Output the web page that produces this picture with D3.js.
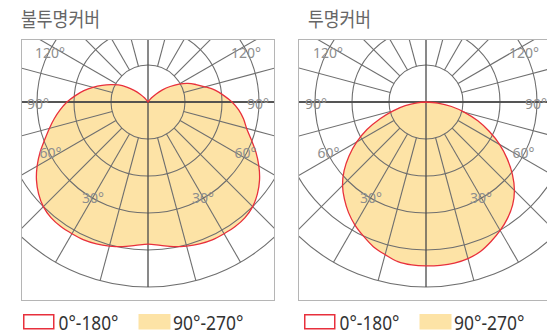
<!DOCTYPE html>
<html>
<head>
<meta charset="utf-8">
<script src="https://cdn.jsdelivr.net/npm/d3@7"></script>
<style>
  html, body { margin: 0; padding: 0; background: #fff; overflow: hidden; }
  svg { display: block; }
</style>
</head>
<body>
<svg id="chart" width="547" height="335"></svg>
<script>
// Angles from nadir (0° = straight down), one reading every 5°
const angles = [0, 5, 10, 15, 20, 25, 30, 35, 40, 45, 50, 55, 60, 65, 70, 75, 80, 85, 90,
  95, 100, 105, 110, 115, 120, 125, 130, 135, 140, 145, 150, 155, 160, 165, 170, 175, 180];

// Rings and angle labels
const rings = [100, 200, 300, 400, 500];
const labelAngles = [30, 60, 90, 120];
const legendLabels = ['0°-180°', '90°-270°'];

// 불투명커버 (opaque cover) - the two planes overlap within reading accuracy
const opaqueLeft = [384, 389, 397, 403, 408, 411, 411, 411, 408, 400, 386, 368, 346, 322, 297, 276, 257, 238, 219,
  197, 176, 154, 132, 111, 92, 70, 49, 30, 14, 0, 0, 0, 0, 0, 0, 0, 0];
const opaqueRight = [384, 389, 397, 403, 408, 411, 411, 411, 408, 400, 386, 368, 346, 322, 297, 276, 262, 246, 227,
  205, 184, 159, 138, 119, 97, 73, 51, 30, 14, 0, 0, 0, 0, 0, 0, 0, 0];

// 투명커버 (clear cover)
const clearLeft = [443, 442, 438, 427, 416, 400, 384, 365, 343, 319, 289, 254, 216, 176, 132, 92, 57, 24, 0,
  0, 0, 0, 0, 0, 0, 0, 0, 0, 0, 0, 0, 0, 0, 0, 0, 0, 0];
const clearRight = [443, 443, 442, 438, 430, 416, 401, 384, 364, 338, 305, 268, 230, 189, 149, 108, 70, 32, 0,
  0, 0, 0, 0, 0, 0, 0, 0, 0, 0, 0, 0, 0, 0, 0, 0, 0, 0];

// Layout
const cy = 102;
const boxTop = 39.5, boxBottom = 300.5;
const panels = [
  { id: 'p0', title: '불투명커버', titleW: 79, left: opaqueLeft, right: opaqueRight,
    cx: 148, x0: 21.5, x1: 274.5, titleX: 21, legendX: 23 },
  { id: 'p1', title: '투명커버', titleW: 63, left: clearLeft, right: clearRight,
    cx: 426, x0: 298.5, x1: 560, titleX: 308, legendX: 304 }
];
// labels sit a little off their spoke so they don't collide with it
const labelNudge = { 30: 0, 60: 2.5, 90: -1, 120: -3 };

const colors = {
  fill: '#fde3a6',
  red: '#e8303c',
  grid: '#6f6f6f',
  axis: '#4a4a4a',
  box: '#b5b5b5',
  label: '#8e8e8e',
  title: '#666',
  legend: '#333'
};

const rScale = d3.scaleLinear().domain([0, 500]).range([0, 185]);
const rad = d => d * Math.PI / 180;

const svg = d3.select('#chart');
const defs = svg.append('defs');

// Closed outline: right half from nadir to zenith, then left half back down
function outline(left, right) {
  const pts = [];
  angles.forEach((a, i) => pts.push([Math.PI - rad(a), rScale(right[i])]));
  for (let i = angles.length - 2; i >= 1; i--) {
    pts.push([Math.PI + rad(angles[i]), rScale(left[i])]);
  }
  return d3.lineRadial().curve(d3.curveCatmullRomClosed.alpha(0.5))(pts);
}

panels.forEach(p => {
  defs.append('clipPath').attr('id', `clip-${p.id}`)
    .append('rect')
    .attr('x', p.x0).attr('y', boxTop)
    .attr('width', p.x1 - p.x0).attr('height', boxBottom - boxTop);

  const g = svg.append('g');

  // Title
  g.append('text')
    .attr('x', p.titleX).attr('y', 26.5)
    .attr('font-family', '"Noto Sans CJK KR", "Noto Sans", sans-serif')
    .attr('font-size', 20)
    .attr('fill', colors.title)
    .attr('textLength', p.titleW)
    .attr('lengthAdjust', 'spacingAndGlyphs')
    .text(p.title);

  const plot = g.append('g').attr('clip-path', `url(#clip-${p.id})`);
  const polar = plot.append('g').attr('transform', `translate(${p.cx},${cy})`);

  // 90°-270° plane (filled)
  polar.append('path')
    .attr('d', outline(p.left, p.right))
    .attr('fill', colors.fill);

  // Rings
  polar.selectAll('circle.ring')
    .data(rings)
    .join('circle')
    .attr('class', 'ring')
    .attr('r', d => rScale(d))
    .attr('fill', 'none')
    .attr('stroke', colors.grid)
    .attr('stroke-width', 1.1);

  // Spokes every 15°, main axes through the centre
  const spokes = d3.range(0, 360, 15);
  polar.selectAll('line.spoke')
    .data(spokes)
    .join('line')
    .attr('class', 'spoke')
    .attr('x1', d => (d % 90 === 0 ? 0 : rScale(rings[0])) * Math.sin(rad(d)))
    .attr('y1', d => (d % 90 === 0 ? 0 : rScale(rings[0])) * Math.cos(rad(d)))
    .attr('x2', d => rScale(rings[rings.length - 1]) * Math.sin(rad(d)))
    .attr('y2', d => rScale(rings[rings.length - 1]) * Math.cos(rad(d)))
    .attr('stroke', d => d % 90 === 0 ? colors.axis : colors.grid)
    .attr('stroke-width', d => d % 90 === 0 ? 1.3 : 1.1);

  // Horizontal axis runs to the box edges
  polar.append('line')
    .attr('x1', -300).attr('x2', 300)
    .attr('stroke', colors.axis)
    .attr('stroke-width', 1.3);

  // 0°-180° plane (outline)
  polar.append('path')
    .attr('d', outline(p.left, p.right))
    .attr('fill', 'none')
    .attr('stroke', colors.red)
    .attr('stroke-width', 1.3);

  // Angle labels on the third ring, both sides
  const labelR = rScale(rings[2]) - 1;
  const labelData = labelAngles.flatMap(a => [{ a, s: -1 }, { a, s: 1 }]);
  polar.selectAll('text.ang')
    .data(labelData)
    .join('text')
    .attr('class', 'ang')
    .attr('x', d => d.s * labelR * Math.sin(rad(d.a + labelNudge[d.a])))
    .attr('y', d => labelR * Math.cos(rad(d.a + labelNudge[d.a])))
    .attr('text-anchor', 'middle')
    .attr('dominant-baseline', 'central')
    .attr('font-family', '"Noto Sans", sans-serif')
    .attr('font-size', 14)
    .attr('fill', colors.label)
    .text(d => `${d.a}°`);

  // Box
  g.append('rect')
    .attr('x', p.x0).attr('y', boxTop)
    .attr('width', p.x1 - p.x0).attr('height', boxBottom - boxTop)
    .attr('fill', 'none')
    .attr('stroke', colors.box)
    .attr('stroke-width', 1);

  // Legend
  const lg = g.append('g').attr('transform', `translate(${p.legendX},314)`);
  lg.append('rect')
    .attr('x', 0.75).attr('y', 0.75).attr('width', 30).attr('height', 14)
    .attr('fill', '#fff')
    .attr('stroke', colors.red)
    .attr('stroke-width', 1.5);
  lg.append('text')
    .attr('x', 35.5).attr('y', 15.5)
    .attr('font-family', '"Noto Sans", sans-serif')
    .attr('font-size', 20)
    .attr('fill', colors.legend)
    .attr('textLength', 60)
    .attr('lengthAdjust', 'spacingAndGlyphs')
    .text(legendLabels[0]);
  lg.append('rect')
    .attr('x', 115.5).attr('y', 0).attr('width', 32).attr('height', 15.5)
    .attr('fill', colors.fill);
  lg.append('text')
    .attr('x', 150).attr('y', 15.5)
    .attr('font-family', '"Noto Sans", sans-serif')
    .attr('font-size', 20)
    .attr('fill', colors.legend)
    .attr('textLength', 70.5)
    .attr('lengthAdjust', 'spacingAndGlyphs')
    .text(legendLabels[1]);
});
</script>
</body>
</html>
